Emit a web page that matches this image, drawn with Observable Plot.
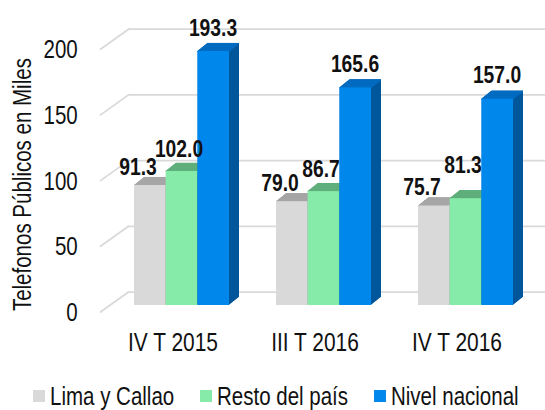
<!DOCTYPE html>
<html>
<head>
<meta charset="utf-8">
<script src="https://cdn.jsdelivr.net/npm/d3@7"></script>
<script src="https://cdn.jsdelivr.net/npm/@observablehq/plot@0.6"></script>
<style>
  html, body { margin: 0; padding: 0; background: #fff; }
  #chart { width: 545px; height: 378px; }
  .legend { display: flex; justify-content: center; align-items: center; height: 36px; width: 539px; padding-left: 6px;
    font-family: "Liberation Sans", Arial, sans-serif; font-size: 25px; color: #111; white-space: nowrap; }
  .legend .item { display: flex; align-items: center; margin: 0 13px; }
  .legend .sw { width: 12px; height: 12px; margin-right: 5px; flex: none; }
  .legend .lab { display: inline-block; transform: scaleX(0.82); transform-origin: left center; }
</style>
</head>
<body>
<div id="chart"></div>
<script>
// ---- data ----
const periods = ["IV T 2015", "III T 2016", "IV T 2016"];
const seriesNames = ["Lima y Callao", "Resto del país", "Nivel nacional"];
const lima = [91.3, 79.0, 75.7];
const resto = [102.0, 86.7, 81.3];
const nacional = [193.3, 165.6, 157.0];
const yTicks = [0, 50, 100, 150, 200];
const yTitle = "Telefonos Públicos en Miles";

// ---- styles ----
const frontColors = ["#D9D9D9", "#86EAA8", "#0087EC"];
const topColors = ["#A6A6A6", "#5FAF7C", "#006BC0"];
const sideColors = ["#8C8C8C", "#4E9A69", "#00569B"];
const FONT = "'Liberation Sans', Arial, sans-serif";
const SQUEEZE = 0.82;   // narrow-font look

const W = 545, H = 378;
const mL = 109.25, mR = 8.25, mT = 42.2, mB = 73;
const BW = 95;            // band width of each period group
const SUB = BW / 3;       // width of each bar
const DEPTH_X = 10, DEPTH_Y = 8, STEPS = 20;

const values = [lima, resto, nacional];
const rows = [];
values.forEach((arr, i) => arr.forEach((v, j) => rows.push({period: periods[j], series: seriesNames[i], si: i, value: v})));

const marks = [];
// back-wall gridlines
marks.push(Plot.ruleY(yTicks, {y: d => d, stroke: "#D9D9D9", strokeWidth: 1.75, dx: 18.75, dy: -13.5}));
// side-wall diagonal gridlines
marks.push(Plot.vector(yTicks, {
  y: d => d, frameAnchor: "left", anchor: "start",
  length: Math.hypot(28, 20), rotate: Math.atan2(28, 20) * 180 / Math.PI,
  shape: {draw(ctx, l) { ctx.moveTo(0, 0); ctx.lineTo(0, -l); }},
  stroke: "#D9D9D9", strokeWidth: 1.75, dx: -9.25, dy: 6.5
}));

seriesNames.forEach((name, i) => {
  const data = rows.filter(r => r.si === i);
  const inset = {insetLeft: i * SUB, insetRight: (2 - i) * SUB};
  for (let k = 1; k <= STEPS; k++) {
    marks.push(Plot.barY(data, {x: "period", y: "value", fill: sideColors[i], ...inset,
      dx: k * DEPTH_X / STEPS, dy: -k * DEPTH_Y / STEPS}));
  }
  for (let k = 0; k <= STEPS; k++) {
    marks.push(Plot.tickY(data, {x: "period", y: "value", stroke: topColors[i], strokeWidth: 1.2, ...inset,
      dx: k * DEPTH_X / STEPS, dy: -k * DEPTH_Y / STEPS}));
  }
  marks.push(Plot.barY(data, {x: "period", y: "value", fill: frontColors[i], ...inset}));
});

// value labels
const labelDx = [-44, -3, 31];
const labelDy = [-18.5, -22.5, -23.5];
seriesNames.forEach((name, i) => {
  const data = rows.filter(r => r.si === i);
  const normal = data.filter(r => !(i === 1 && r.period === "IV T 2016"));
  const lifted = data.filter(r => i === 1 && r.period === "IV T 2016");
  const opts = {x: "period", y: "value", text: d => d.value.toFixed(1), fontSize: 23.5, fontWeight: "bold",
    fill: "#111", fontFamily: FONT, dx: labelDx[i]};
  marks.push(Plot.text(normal, {...opts, dy: labelDy[i]}));
  if (lifted.length) marks.push(Plot.text(lifted, {...opts, dy: labelDy[i] - 11}));
});

marks.push(Plot.axisY({ticks: yTicks, tickSize: 0, tickPadding: 32, dy: 7.5, fontSize: 25, fontFamily: FONT, fill: "#111", label: null}));
marks.push(Plot.axisX({tickSize: 0, tickPadding: 27, dx: -9, fontSize: 25.5, fontFamily: FONT, fill: "#111", label: null}));
marks.push(Plot.text([yTitle], {text: d => d, frameAnchor: "left", textAnchor: "middle", lineAnchor: "middle",
  rotate: -90, dx: 22.5 - mL, dy: 10.5, fontSize: 25, fontFamily: FONT, fill: "#111"}));

const chart = Plot.plot({
  width: W, height: H,
  marginLeft: mL, marginRight: mR, marginTop: mT, marginBottom: mB,
  style: {fontFamily: FONT, background: "#fff", overflow: "visible"},
  x: {domain: periods, paddingInner: 1/3, paddingOuter: 1/6, axis: null},
  y: {domain: [0, 200], axis: null},
  marks
});
document.getElementById("chart").appendChild(chart);

// condense all chart texts horizontally
d3.select(chart).selectAll("text").each(function() {
  const w = this.getComputedTextLength();
  if (w > 0) {
    this.setAttribute("textLength", w * SQUEEZE);
    this.setAttribute("lengthAdjust", "spacingAndGlyphs");
  }
});

// legend
const lg = d3.select("body").append("div").attr("class", "legend");
seriesNames.forEach((name, i) => {
  const it = lg.append("div").attr("class", "item");
  it.append("div").attr("class", "sw").style("background", frontColors[i]);
  it.append("span").attr("class", "lab").text(name);
});
lg.selectAll(".lab").each(function() {
  const w = this.offsetWidth;
  this.style.marginRight = (-(1 - SQUEEZE) * w) + "px";
});
</script>
</body>
</html>
